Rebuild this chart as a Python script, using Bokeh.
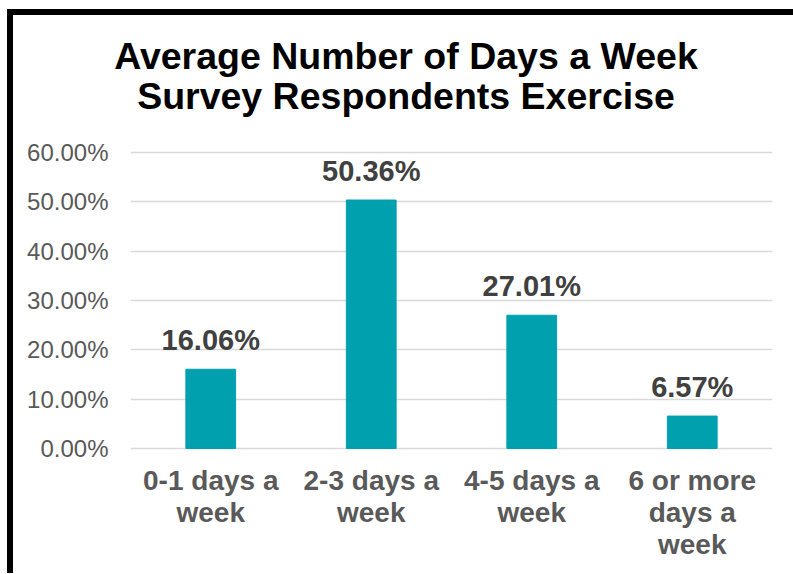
from bokeh.plotting import figure
from bokeh.models import ColumnDataSource, Range1d, NumeralTickFormatter, FactorRange, Spacer, Div
from bokeh.layouts import column, row
from bokeh.core.properties import value
from bokeh.embed import file_html
from bokeh.resources import INLINE

categories = ["0-1 days a week", "2-3 days a week", "4-5 days a week", "6 or more days a week"]
wrapped = ["0-1 days a\nweek", "2-3 days a\nweek", "4-5 days a\nweek", "6 or more\ndays a\nweek"]
shares = [0.1606, 0.5036, 0.2701, 0.0657]
y_ticks = [0.0, 0.1, 0.2, 0.3, 0.4, 0.5, 0.6]
title_lines = ["Average Number of Days a Week", "Survey Respondents Exercise"]

FONT = "Liberation Sans"

src = ColumnDataSource(dict(
    cat=categories,
    val=shares,
    lab=["%.2f%%" % (v * 100) for v in shares],
    wrap=wrapped,
    zero=[0.0] * len(categories),
))

# frame extended below the value axis so the category texts stay inside it
p = figure(
    x_range=FactorRange(*categories), y_range=Range1d(-0.2453, 0.6243),
    width=772, height=438,
    output_backend="svg", toolbar_location=None,
    min_border_left=117, min_border_right=13, min_border_top=5, min_border_bottom=4,
)
p.outline_line_color = None
p.background_fill_color = "white"
p.border_fill_color = "white"

p.vbar(x="cat", top="val", width=0.31, source=src, fill_color="#00A0AF", line_color="#00A0AF")

p.text(x="cat", y="val", text="lab", source=src, y_offset=-29,
       text_align="center", text_baseline="alphabetic",
       text_font=value(FONT), text_font_style="bold", text_font_size="29px",
       text_color="#404040")

# category labels under the baseline
p.text(x="cat", y="zero", text="wrap", source=src, y_offset=17,
       text_align="center", text_baseline="top", text_line_height=1.02,
       text_font=value(FONT), text_font_style="bold", text_font_size="28px",
       text_color="#595959")

# axes
p.xaxis.visible = False
p.yaxis.ticker = y_ticks
p.yaxis.formatter = NumeralTickFormatter(format="0.00%")
p.yaxis.axis_line_color = None
p.yaxis.major_tick_line_color = None
p.yaxis.minor_tick_line_color = None
p.yaxis.major_tick_out = 0
p.yaxis.major_label_standoff = 22
p.yaxis.major_label_text_font = FONT
p.yaxis.major_label_text_font_size = "24px"
p.yaxis.major_label_text_color = "#595959"

p.xgrid.grid_line_color = None
p.ygrid.ticker = y_ticks
p.ygrid.grid_line_color = "#D9D9D9"
p.ygrid.grid_line_width = 1.5

# chart title
title_html = (
    '<div style="width:772px;box-sizing:border-box;padding-top:21px;padding-left:14px;'
    'margin:0;text-align:center;white-space:nowrap;font-family:\'Liberation Sans\';'
    'font-weight:bold;font-size:37.5px;line-height:40px;color:black;">'
    + "<br>".join(title_lines) + "</div>"
)
title_div = Div(text=title_html, width=772, height=120, styles={"margin": "0", "padding": "0"})

# chart container border (left and top edges)
top_bar = Spacer(width=786, height=6, styles={"background-color": "black"})
left_bar = Spacer(width=6, height=558, styles={"background-color": "black"})
layout = column(
    Spacer(width=10, height=9),
    row(Spacer(width=7, height=10), column(top_bar, row(left_bar, column(title_div, p)))),
)

open("out.html", "w").write(file_html(layout, INLINE))
